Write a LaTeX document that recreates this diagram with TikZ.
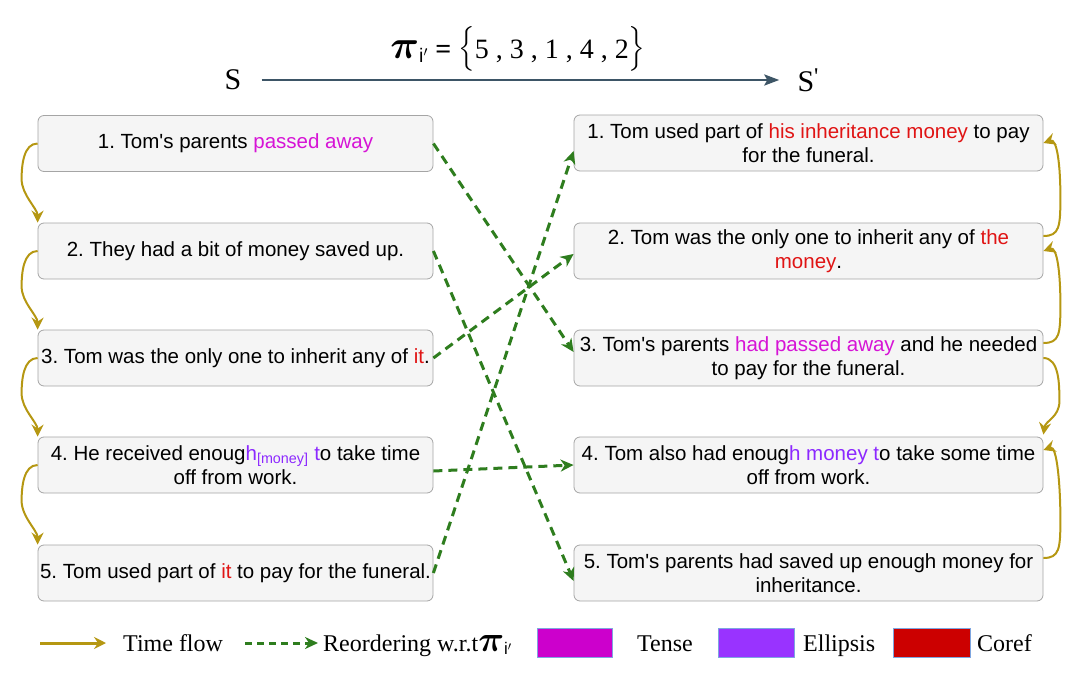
\RequirePackage{fix-cm}
\documentclass[tikz,border=0pt]{standalone}
\usepackage{fontspec}
\usepackage{amsmath,bm}
\setmainfont{Liberation Sans}
\newfontfamily\serifrm{Liberation Serif}
\usetikzlibrary{arrows.meta,calc}
\definecolor{goldc}{RGB}{181,151,18}
\definecolor{greenc}{RGB}{46,125,30}
\definecolor{tensec}{RGB}{204,0,204}
\definecolor{tenseT}{RGB}{214,20,214}
\definecolor{ellipc}{RGB}{153,51,255}
\definecolor{ellipT}{RGB}{140,40,255}
\definecolor{corefc}{RGB}{204,0,0}
\definecolor{corefT}{RGB}{224,20,20}
\definecolor{boxfill}{RGB}{245,245,245}
\definecolor{boxline}{RGB}{165,165,165}
\definecolor{slate}{RGB}{61,85,102}
\definecolor{legline}{RGB}{126,166,224}
\newcommand{\apo}{\textquotesingle}
\frenchspacing
\begin{document}
\frenchspacing
\begin{tikzpicture}[x=1pt,y=-1pt,
  sbox/.style={draw=boxline,fill=boxfill,rounded corners=6pt,minimum height=56pt,inner sep=0pt,align=center,font=\fontsize{20.5}{24}\selectfont,line width=0.8pt},
  lbox/.style={sbox,minimum width=395pt},
  rbox/.style={sbox,minimum width=469pt},
  timeflow/.style={draw=goldc,line width=2pt,-{Stealth[length=12pt,width=12pt,inset=4pt]}},
  reorder/.style={draw=greenc,line width=3pt,dash pattern=on 9pt off 6pt,-{Stealth[length=13pt,width=12pt,inset=4pt]}},
  legtext/.style={font=\serifrm\fontsize{24}{28}\selectfont,anchor=base west,inner sep=0pt},
  bigtext/.style={font=\serifrm\fontsize{30}{32}\selectfont,inner sep=0pt}]
\useasboundingbox (0,0) rectangle (1080,688);

% top
\node[bigtext] (S) at (233,80) {S};
\node[bigtext] (Sp) at (808,80) {S\raisebox{7pt}{\fontsize{24}{24}\selectfont\apo}};
\draw[draw=slate,line width=2.6pt,-{Stealth[length=15pt,width=11pt,inset=3pt]}] ($(S.east)+(20,0)$) coordinate (as) -- ($(Sp.west)+(-18,0)$) coordinate (ae);
\node[font=\serifrm\fontsize{28}{32}\selectfont,inner sep=0pt] (pi) at (518,49)
  {{\fontsize{40}{40}\selectfont$\bm{\pi}$}$_{\mathrm{i'}}$ \textbf{=} {\fontsize{36}{36}\selectfont$\bigl\{$}5 , 3 , 1 , 4 , 2{\fontsize{36}{36}\selectfont$\bigr\}$}};

% left column
\node[lbox] (L1) at (235.5,143.5) {1. Tom\apo s parents \textcolor{tenseT}{passed away}};
\node[lbox] (L2) at (235.5,251) {2. They had a bit of money saved up.};
\node[lbox] (L3) at (235.5,358) {3. Tom was the only one to inherit any of \textcolor{corefT}{it}.};
\node[lbox] (L4) at (235.5,465) {4. He received enoug\textcolor{ellipT}{h\textsubscript{[money]} t}o take time\\off from work.};
\node[lbox] (L5) at (235.5,573) {5. Tom used part of \textcolor{corefT}{it} to pay for the funeral.};

% right column
\node[rbox] (R1) at (808.5,143) {1. Tom used part of \textcolor{corefT}{his inheritance money} to pay\\for the funeral.};
\node[rbox] (R2) at (808.5,251) {2. Tom was the only one to inherit any of \textcolor{corefT}{the}\\\textcolor{corefT}{money}.};
\node[rbox] (R3) at (808.5,358) {3. Tom\apo s parents \textcolor{tenseT}{had passed away} and he needed\\to pay for the funeral.};
\node[rbox] (R4) at (808.5,465) {4. Tom also had enoug\textcolor{ellipT}{h money t}o take some time\\off from work.};
\node[rbox] (R5) at (808.5,573) {5. Tom\apo s parents had saved up enough money for\\inheritance.};

% time flow, left
\foreach \a/\b in {L1/L2,L2/L3,L3/L4,L4/L5}{
  \draw[timeflow] (\a.west) .. controls +(-14,0) and +(0,-14) .. ($(\a.west)!0.45!(\b.north west)+(-16,0)$)
     .. controls +(0,16) and +(0,-14) .. (\b.north west);
}

% time flow, right
\draw[timeflow] ($(R2.east)+(0,-15)$) .. controls +(16,0) and +(0,30) .. ($(R2.east)!0.5!(R1.east)+(17,0)$)
   .. controls +(0,-30) and +(14,-5) .. (R1.east);
\draw[timeflow] ($(R3.east)+(0,-15)$) .. controls +(16,0) and +(0,30) .. ($(R3.east)!0.5!(R2.east)+(17,0)$)
   .. controls +(0,-30) and +(14,-5) .. (R2.east);
\draw[timeflow] (R3.east) .. controls +(16,0) and +(0,-16) .. ($(R3.east)!0.55!(R4.north east)+(16,0)$)
   .. controls +(0,16) and +(2,-14) .. ($(R4.north east)+(0,-2)$);
\draw[timeflow] ($(R5.east)+(0,-15)$) .. controls +(16,0) and +(0,30) .. ($(R5.east)!0.5!(R4.east)+(17,0)$)
   .. controls +(0,-30) and +(14,-5) .. ($(R4.east)+(0,-15)$);

% reordering
\draw[reorder] (L1.east) -- ($(R3.west)+(0,-6)$);
\draw[reorder] (L2.east) -- ($(R5.west)+(0,8)$);
\draw[reorder] (L3.east) -- ($(R2.west)+(0,3)$);
\draw[reorder] ($(L4.east)+(0,6)$) -- (R4.west);
\draw[reorder] (L5.east) -- ($(R1.west)+(0,8)$);

% legend
\coordinate (tf1) at (40,643);
\coordinate (tf2) at (106,643);
\draw[timeflow,line width=3pt] (tf1) -- (tf2);
\node[legtext] (tft) at (123,651) {Time flow};
\coordinate (ro1) at (245,643);
\coordinate (ro2) at (318,643);
\draw[reorder,line width=3pt,dash pattern=on 7pt off 5pt] (ro1) -- (ro2);
\node[legtext] (rot) at (323,651) {Reordering w.r.t{\fontsize{36}{36}\selectfont$\bm{\pi}$}$_{\mathrm{i'}}$};
\node[draw=legline,line width=0.7pt,fill=tensec,minimum width=75pt,minimum height=29pt,inner sep=0pt] (lt) at (574.5,642.5) {};
\node[legtext] (ltt) at (637,651) {Tense};
\node[draw=legline,line width=0.7pt,fill=ellipc,minimum width=76pt,minimum height=29pt,inner sep=0pt] (le) at (756,642.5) {};
\node[legtext] (let) at (803,651) {Ellipsis};
\node[draw=legline,line width=0.7pt,fill=corefc,minimum width=77pt,minimum height=29pt,inner sep=0pt] (lc) at (931.5,642.5) {};
\node[legtext] (lct) at (977,651) {Coref};
\end{tikzpicture}
\end{document}
